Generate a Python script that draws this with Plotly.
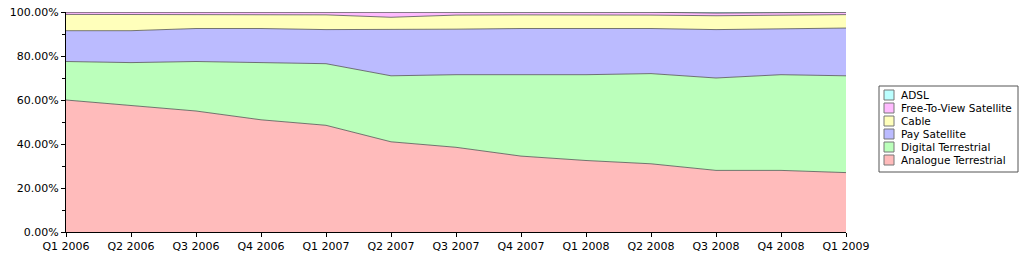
import plotly.graph_objects as go

quarters = ["Q1 2006", "Q2 2006", "Q3 2006", "Q4 2006", "Q1 2007", "Q2 2007", "Q3 2007",
            "Q4 2007", "Q1 2008", "Q2 2008", "Q3 2008", "Q4 2008", "Q1 2009"]

analogue = [60, 57.5, 55, 51, 48.5, 41, 38.5, 34.5, 32.5, 31, 28, 28, 27]
digital = [17.5, 19.5, 22.5, 26, 28, 30, 33, 37, 39, 41, 42, 43.5, 44]
pay_sat = [14, 14.5, 15, 15.5, 15.5, 21, 20.7, 21, 21, 20.5, 22, 21, 21.7]
cable = [7.4, 7.3, 6.3, 6.3, 6.7, 5.6, 6.4, 6.2, 6.2, 6.1, 6.3, 6.2, 6.1]
adsl = [0, 0, 0, 0, 0, 0, 0, 0, 0, 0.1, 0.5, 0.2, 0.1]
ftv = [1.1, 1.2, 1.2, 1.2, 1.3, 2.4, 1.4, 1.3, 1.3, 1.3, 1.2, 1.1, 1.1]

y_ticks = [0, 20, 40, 60, 80, 100]
y_ticklabels = ["0.00%", "20.00%", "40.00%", "60.00%", "80.00%", "100.00%"]

series = [
    ("Analogue Terrestrial", analogue, "#FFBBBB"),
    ("Digital Terrestrial", digital, "#BBFFBB"),
    ("Pay Satellite", pay_sat, "#BBBBFF"),
    ("Cable", cable, "#FFFFBB"),
    ("Free-To-View Satellite", ftv, "#FFBBFF"),
    ("ADSL", adsl, "#BBFFFF"),
]

W, H = 1024, 256
L, R, T, B = 66, 178, 12, 24
PW, PH = W - L - R, H - T - B


def px_x(px):
    return (px - L) / PW


def px_y(py):
    return (H - B - py) / PH


fig = go.Figure()
for name, vals, col in series:
    fig.add_trace(go.Scatter(
        x=quarters, y=vals, name=name, mode="lines", stackgroup="one",
        fillcolor=col, line=dict(color="#555555", width=0.8), showlegend=False,
    ))

# custom legend (box + swatches + labels)
shapes = [dict(type="rect", xref="paper", yref="paper",
               x0=px_x(879), x1=px_x(1018), y0=px_y(172), y1=px_y(86),
               line=dict(color="#555555", width=1), fillcolor="white", layer="above")]
annotations = []
for i, (name, vals, col) in enumerate(reversed(series)):
    cy = 95 + i * 13
    shapes.append(dict(type="rect", xref="paper", yref="paper",
                       x0=px_x(884), x1=px_x(894), y0=px_y(cy + 5), y1=px_y(cy - 5),
                       line=dict(color="#777777", width=1), fillcolor=col, layer="above"))
    annotations.append(dict(xref="paper", yref="paper", x=px_x(899), y=px_y(cy),
                            xanchor="left", yanchor="middle", text=name, showarrow=False,
                            font=dict(size=10.5, color="black")))

fig.update_layout(
    width=W, height=H,
    margin=dict(l=L, r=R, t=T, b=B, autoexpand=False),
    paper_bgcolor="white", plot_bgcolor="white",
    font=dict(family="DejaVu Sans", size=11, color="black"),
    showlegend=False,
    shapes=shapes, annotations=annotations,
    xaxis=dict(
        showgrid=False, zeroline=False, showline=True, linecolor="black",
        ticks="outside", ticklen=4, tickcolor="black", range=[0, 12], automargin=False,
    ),
    yaxis=dict(
        showgrid=False, zeroline=False, showline=True, linecolor="black",
        range=[0, 100], tickvals=y_ticks, ticktext=y_ticklabels,
        ticks="outside", ticklen=4, tickcolor="black", automargin=False,
        minor=dict(ticks="outside", ticklen=3, tickvals=[10, 30, 50, 70, 90], tickcolor="black"),
    ),
)

fig.write_html("out.html")
